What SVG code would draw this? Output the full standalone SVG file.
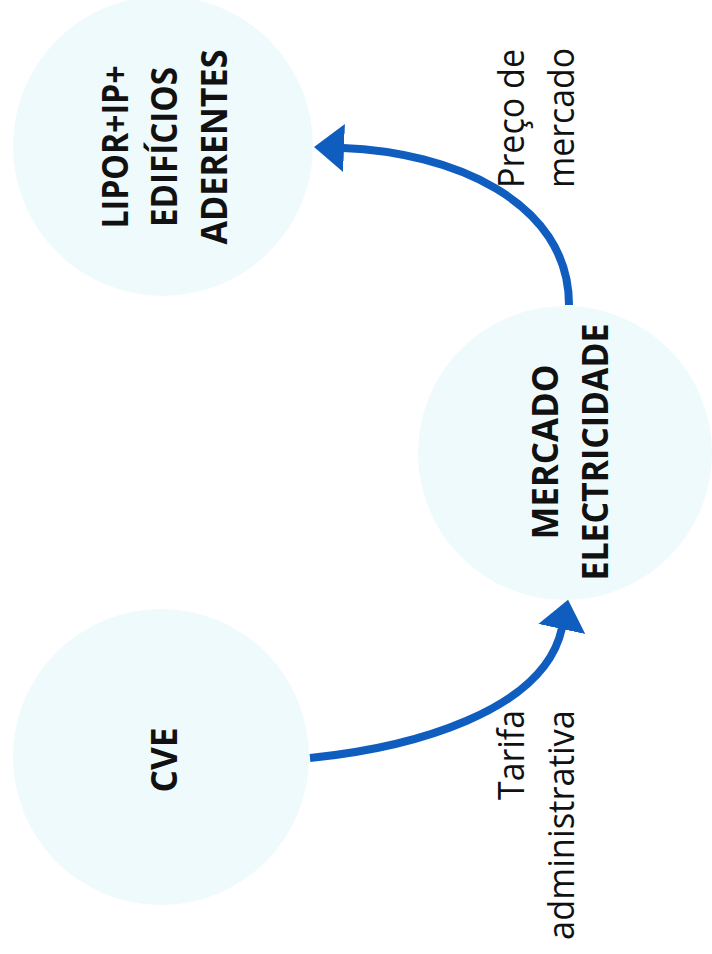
<svg xmlns="http://www.w3.org/2000/svg" width="712" height="954" viewBox="0 0 712 954">
  <style>
    .node { fill: #EFFAFC; }
    .nl { font-family: "Open Sans", "Liberation Sans", sans-serif; font-weight: bold; font-size: 36px; fill: #111111; text-anchor: middle; }
    .el { font-family: "Open Sans", "Liberation Sans", sans-serif; font-size: 36px; fill: #111111; }
    .conn { fill: none; stroke: #105DC0; stroke-width: 8; }
  </style>
  <defs>
    <marker id="ah" markerUnits="userSpaceOnUse" viewBox="0 0 30 48" refX="1" refY="24" markerWidth="30" markerHeight="48" orient="auto">
      <path d="M0,0 L30,24 L0,48 z" fill="#105DC0"/>
    </marker>
  </defs>
  <rect width="712" height="954" fill="#ffffff"/>

  <g id="node-lipor">
    <circle class="node" cx="163" cy="146" r="150"/>
    <g transform="translate(0,147) rotate(-90)">
      <text class="nl" x="0" y="128" textLength="163" lengthAdjust="spacingAndGlyphs">LIPOR+IP+</text>
      <text class="nl" x="0" y="177" textLength="160" lengthAdjust="spacingAndGlyphs">EDIFÍCIOS</text>
      <text class="nl" x="0" y="227" textLength="195" lengthAdjust="spacingAndGlyphs">ADERENTES</text>
    </g>
  </g>

  <g id="node-mercado">
    <circle class="node" cx="565" cy="453" r="147"/>
    <g transform="translate(0,452) rotate(-90)">
      <text class="nl" x="0" y="558" textLength="175" lengthAdjust="spacingAndGlyphs">MERCADO</text>
      <text class="nl" x="0" y="608" textLength="257" lengthAdjust="spacingAndGlyphs">ELECTRICIDADE</text>
    </g>
  </g>

  <g id="node-cve">
    <circle class="node" cx="161" cy="757" r="148"/>
    <g transform="translate(0,760) rotate(-90)">
      <text class="nl" x="0" y="177" textLength="65" lengthAdjust="spacingAndGlyphs">CVE</text>
    </g>
  </g>

  <g id="connectors">
    <path class="conn" d="M 569 305 C 569 200, 450 152, 343 148" marker-end="url(#ah)"/>
    <path class="conn" d="M 310 758 C 410 748, 544 712, 562 628" marker-end="url(#ah)"/>
    <g transform="rotate(-90)">
      <text class="el" x="-188" y="524" textLength="139" lengthAdjust="spacingAndGlyphs">Preço de</text>
      <text class="el" x="-188" y="574" textLength="140" lengthAdjust="spacingAndGlyphs">mercado</text>
      <text class="el" x="-800" y="524" textLength="90" lengthAdjust="spacingAndGlyphs">Tarifa</text>
      <text class="el" x="-940" y="574" textLength="230" lengthAdjust="spacingAndGlyphs">administrativa</text>
    </g>
  </g>
</svg>
